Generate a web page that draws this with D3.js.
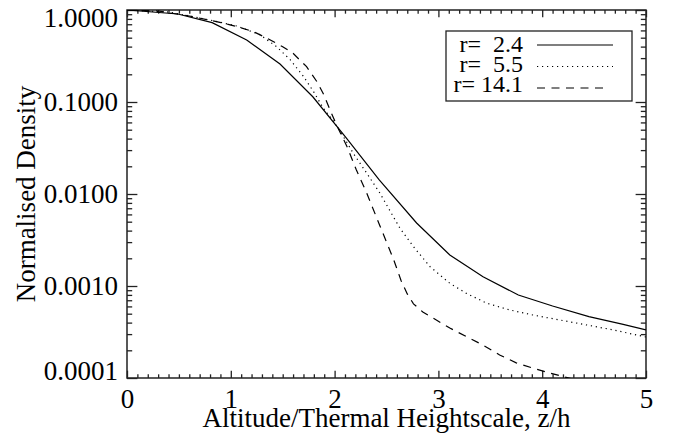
<!DOCTYPE html>
<html>
<head>
<meta charset="utf-8">
<script src="https://cdn.jsdelivr.net/npm/d3@7"></script>
<style>
  html, body { margin: 0; padding: 0; background: #fff; }
  text { font-family: "Liberation Serif", "Times New Roman", serif; fill: #000; }
</style>
</head>
<body>
<script>
// altitude z/h and normalised density
const xTicks = [0, 1, 2, 3, 4, 5];
const yTicks = [1, 0.1, 0.01, 0.001, 0.0001];

const seriesNames = ["r=  2.4", "r=  5.5", "r= 14.1"];

const solidX = [0, 0.49, 0.82, 1.153, 1.474, 1.79, 2.11, 2.43, 2.79, 3.11, 3.43, 3.77, 4.10, 4.45, 4.77, 5.0];
const solidY = [1.0, 0.905, 0.728, 0.472, 0.259, 0.114, 0.041, 0.0142, 0.00484, 0.00217, 0.00126, 0.000798, 0.000606, 0.000464, 0.000385, 0.000333];

const dottedX = [0, 0.4, 0.64, 0.83, 1.057, 1.28, 1.44, 1.57, 1.7, 1.8, 1.89, 1.99, 2.085, 2.18, 2.31, 2.437, 2.566, 2.63, 2.76, 2.92, 3.11, 3.27, 3.465, 3.69, 3.91, 4.17, 4.43, 4.685, 5.0];
const dottedY = [1.0, 0.95, 0.846, 0.765, 0.67, 0.54, 0.40, 0.29, 0.19, 0.128, 0.086, 0.062, 0.042, 0.0277, 0.0168, 0.0102, 0.00566, 0.00424, 0.00267, 0.00162, 0.00107, 0.000832, 0.00065, 0.000548, 0.000484, 0.000427, 0.000377, 0.000333, 0.000279];

const dashedX = [0, 0.3, 0.6, 0.91, 1.06, 1.22, 1.35, 1.5, 1.6, 1.73, 1.83, 1.89, 1.97, 2.02, 2.12, 2.21, 2.31, 2.44, 2.57, 2.64, 2.7, 2.76, 2.85, 2.98, 3.11, 3.27, 3.43, 3.59, 3.75, 3.91, 4.075, 4.24, 4.5, 5.0];
const dashedY = [1.0, 0.975, 0.86, 0.728, 0.659, 0.581, 0.492, 0.399, 0.338, 0.242, 0.166, 0.124, 0.0753, 0.056, 0.0327, 0.0182, 0.0102, 0.00441, 0.00192, 0.00115, 0.00082, 0.00064, 0.000521, 0.000427, 0.000349, 0.000282, 0.000228, 0.000178, 0.000146, 0.000128, 0.000113, 0.000101, 0.000085, 0.00006];

const baseWidth = 677,
  baseHeight = 443;
const margin = { top: 10, right: 31, bottom: 65, left: 127 };
const width = baseWidth - margin.left - margin.right;
const height = baseHeight - margin.top - margin.bottom;

const x = d3.scaleLinear().domain([0, 5]).range([0, width]);
const y = d3.scaleLog().domain([0.0001, 1]).range([height, 0]);

const xLen = 0.02 * height,
  yLen = 0.02 * width;

// 9 minor ticks between each x label, 2..9 in each decade of y
const xMinor = d3
  .range(0, 50)
  .map((i) => i / 10)
  .filter((v) => Math.abs(v - Math.round(v)) > 1e-6);
const yMinor = [];
[0.0001, 0.001, 0.01, 0.1].forEach((d) => {
  for (let k = 2; k <= 9; k++) yMinor.push(d * k);
});

const svg = d3
  .select("body")
  .append("svg")
  .attr("width", baseWidth)
  .attr("height", baseHeight);

const chart = svg
  .append("g")
  .attr("transform", "translate(" + margin.left + "," + margin.top + ")");

chart
  .append("clipPath")
  .attr("id", "clip")
  .append("rect")
  .attr("width", width)
  .attr("height", height);

function tickStyle(g) {
  g.select(".domain").remove();
  g.selectAll(".tick line").attr("stroke", "#222").attr("stroke-width", 1.3);
  g.selectAll(".tick text").style("font-size", "27px");
}

// bottom axis with labels
chart
  .append("g")
  .attr("transform", "translate(0," + height + ")")
  .call(d3.axisBottom(x).tickValues(xTicks).tickSize(-xLen).tickPadding(11).tickFormat(d3.format("d")))
  .call(tickStyle);
chart
  .append("g")
  .attr("transform", "translate(0," + height + ")")
  .call(d3.axisBottom(x).tickValues(xMinor).tickSize(-xLen / 2).tickFormat(""))
  .call(tickStyle);
// top axis
chart
  .append("g")
  .call(d3.axisTop(x).tickValues(xTicks).tickSize(-xLen).tickFormat(""))
  .call(tickStyle);
chart
  .append("g")
  .call(d3.axisTop(x).tickValues(xMinor).tickSize(-xLen / 2).tickFormat(""))
  .call(tickStyle);

// left axis with labels, end labels pulled inside the axis span
const left = chart
  .append("g")
  .call(d3.axisLeft(y).tickValues(yTicks).tickSize(-yLen).tickPadding(9).tickFormat(d3.format(".4f")))
  .call(tickStyle);
left
  .selectAll(".tick text")
  .attr("dy", (d) => (d === 1 ? "0.6em" : d === 0.0001 ? "0.04em" : "0.32em"));
chart
  .append("g")
  .call(d3.axisLeft(y).tickValues(yMinor).tickSize(-yLen / 2).tickFormat(""))
  .call(tickStyle);
// right axis
chart
  .append("g")
  .attr("transform", "translate(" + width + ",0)")
  .call(d3.axisRight(y).tickValues(yTicks).tickSize(-yLen).tickFormat(""))
  .call(tickStyle);
chart
  .append("g")
  .attr("transform", "translate(" + width + ",0)")
  .call(d3.axisRight(y).tickValues(yMinor).tickSize(-yLen / 2).tickFormat(""))
  .call(tickStyle);

// frame
chart
  .append("rect")
  .attr("width", width)
  .attr("height", height)
  .attr("fill", "none")
  .attr("stroke", "#222")
  .attr("stroke-width", 1.5);

// curves
const line = d3
  .line()
  .x((d) => x(d[0]))
  .y((d) => y(d[1]));

const series = [
  { xs: solidX, ys: solidY, dash: null },
  { xs: dottedX, ys: dottedY, dash: "1.2,3.8" },
  { xs: dashedX, ys: dashedY, dash: "8,6.5" },
];

chart
  .append("g")
  .attr("clip-path", "url(#clip)")
  .selectAll("path")
  .data(series)
  .enter()
  .append("path")
  .attr("d", (s) => line(s.xs.map((v, i) => [v, s.ys[i]])))
  .attr("fill", "none")
  .attr("stroke", "#000")
  .attr("stroke-width", 1.2)
  .attr("stroke-dasharray", (s) => s.dash);

// axis titles
svg
  .append("text")
  .attr("x", margin.left + width / 2)
  .attr("y", 427)
  .attr("text-anchor", "middle")
  .style("font-size", "27px")
  .text("Altitude/Thermal Heightscale, z/h");

svg
  .append("text")
  .attr("transform", "translate(35," + (margin.top + height / 2) + ") rotate(-90)")
  .attr("text-anchor", "middle")
  .style("font-size", "27px")
  .text("Normalised Density");

// legend
const legend = svg.append("g").attr("transform", "translate(446,31)");
legend
  .append("rect")
  .attr("width", 186)
  .attr("height", 70)
  .attr("fill", "#fff")
  .attr("stroke", "#222")
  .attr("stroke-width", 1.3);

const rows = legend
  .selectAll(".row")
  .data(series)
  .enter()
  .append("g")
  .attr("class", "row")
  .attr("transform", (d, i) => "translate(0," + (13 + i * 20) + ")");

rows
  .append("text")
  .attr("x", 77)
  .attr("y", 0)
  .attr("dy", "0.34em")
  .attr("text-anchor", "end")
  .style("font-size", "24px")
  .style("white-space", "pre")
  .text((d, i) => seriesNames[i]);

rows
  .append("line")
  .attr("x1", 91)
  .attr("x2", (d, i) => (i === 2 ? 158 : 167))
  .attr("y1", (d, i) => 1 + i * 1.5)
  .attr("y2", (d, i) => 1 + i * 1.5)
  .attr("stroke", "#000")
  .attr("stroke-width", 1.2)
  .attr("stroke-dasharray", (d) => d.dash);
</script>
</body>
</html>
